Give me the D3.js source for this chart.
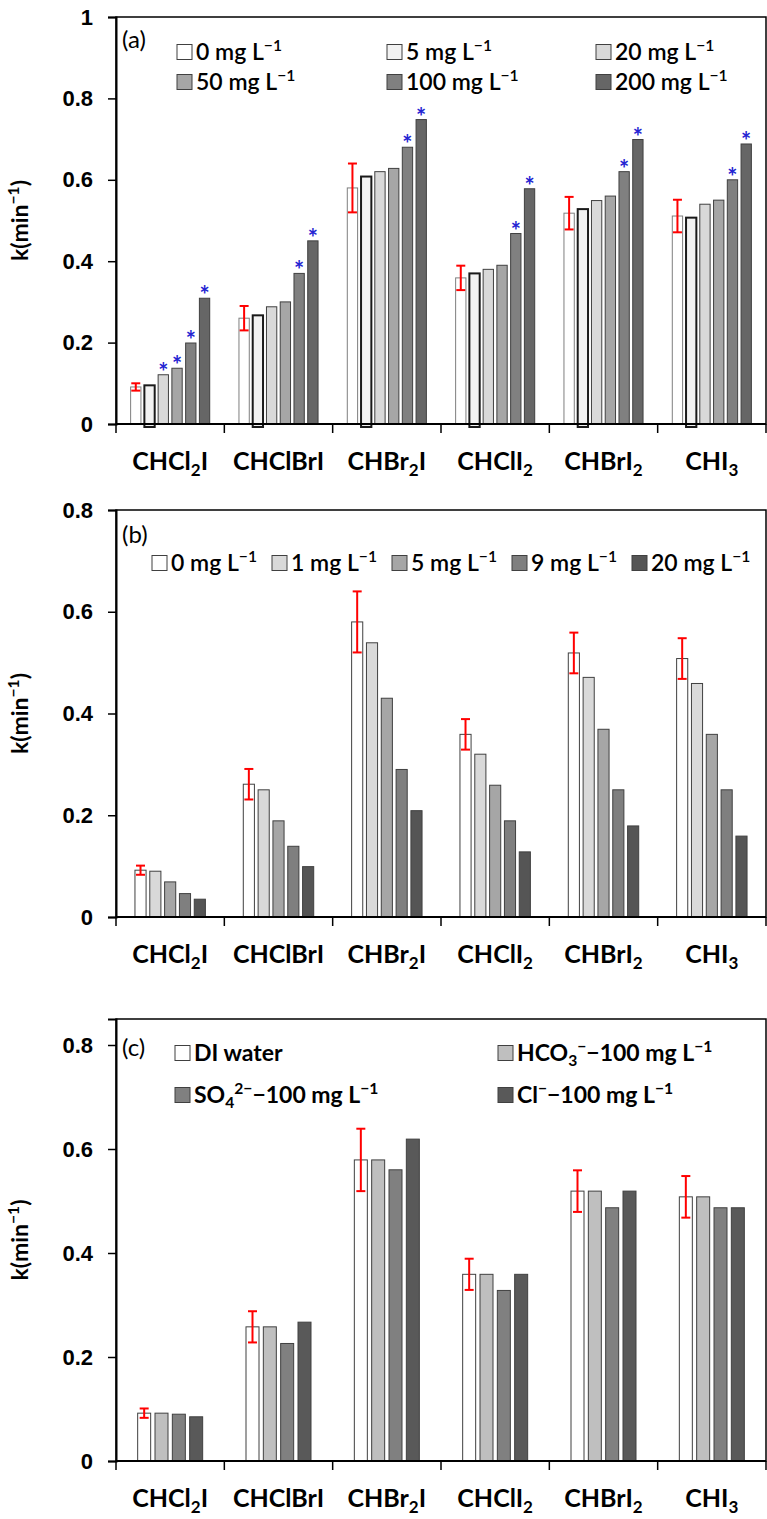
<!DOCTYPE html>
<html>
<head>
<meta charset="utf-8">
<script src="https://cdn.jsdelivr.net/npm/d3@7"></script>
<style>
  html, body { margin: 0; padding: 0; background: #fff; }
  svg { display: block; font-family: Lato, "Open Sans", sans-serif; }
</style>
</head>
<body>
<svg id="chart" width="767" height="1519"></svg>
<script>
// compounds on the x axis (_{} = subscript, ^{} = superscript)
const compounds = ["CHCl_{2}I", "CHClBrI", "CHBr_{2}I", "CHClI_{2}", "CHBrI_{2}", "CHI_{3}"];

// standard deviation of the 0 mg L-1 (control) bar
const controlErrors = [0.009, 0.03, 0.06, 0.03, 0.04, 0.04];

// (a) series
const seriesA = ["0 mg L^{−1}", "5 mg L^{−1}", "20 mg L^{−1}", "50 mg L^{−1}", "100 mg L^{−1}", "200 mg L^{−1}"];
const valuesA = [
    [0.091, 0.095, 0.121, 0.137, 0.199, 0.309],
    [0.26, 0.267, 0.288, 0.30, 0.37, 0.45],
    [0.58, 0.608, 0.62, 0.628, 0.68, 0.748],
    [0.359, 0.37, 0.38, 0.39, 0.468, 0.578],
    [0.518, 0.528, 0.549, 0.56, 0.62, 0.699],
    [0.511, 0.507, 0.54, 0.55, 0.60, 0.688]
];
// significance markers (1 = asterisk)
const starsA = [
    [0, 0, 1, 1, 1, 1],
    [0, 0, 0, 0, 1, 1],
    [0, 0, 0, 0, 1, 1],
    [0, 0, 0, 0, 1, 1],
    [0, 0, 0, 0, 1, 1],
    [0, 0, 0, 0, 1, 1]
];

// (b) series
const seriesB = ["0 mg L^{−1}", "1 mg L^{−1}", "5 mg L^{−1}", "9 mg L^{−1}", "20 mg L^{−1}"];
const valuesB = [
    [0.092, 0.09, 0.069, 0.046, 0.035],
    [0.261, 0.25, 0.189, 0.139, 0.099],
    [0.58, 0.539, 0.43, 0.29, 0.209],
    [0.359, 0.32, 0.259, 0.189, 0.128],
    [0.519, 0.471, 0.369, 0.25, 0.179],
    [0.508, 0.459, 0.359, 0.25, 0.159]
];

// (c) series
const seriesC = ["DI water", "HCO_{3}^{−}−100 mg L^{−1}", "SO_{4}^{2−}−100 mg L^{−1}", "Cl^{−}−100 mg L^{−1}"];
const valuesC = [
    [0.092, 0.092, 0.09, 0.085],
    [0.258, 0.258, 0.226, 0.267],
    [0.579, 0.579, 0.56, 0.619],
    [0.359, 0.359, 0.328, 0.359],
    [0.519, 0.519, 0.487, 0.519],
    [0.508, 0.508, 0.487, 0.487]
];

const ticksA = [0, 0.2, 0.4, 0.6, 0.8, 1];
const ticksBC = [0, 0.2, 0.4, 0.6, 0.8];

const panels = [
    {
        tag: "(a)", tagY: 31, top: 17, bottom: 424, max: 1, ticks: ticksA,
        series: seriesA, values: valuesA, stars: starsA, groupFrac: 0.73,
        fills: ["#ffffff", "#f2f2f2", "#d9d9d9", "#a6a6a6", "#808080", "#666666"],
        strokes: ["#7f7f7f", "#1a1a1a", "#404040", "#404040", "#404040", "#404040"],
        strokeWidths: [1, 2, 1, 1, 1, 1],
        legend: { cols: [177, 387, 596], rows: [52, 82], perRow: 3, weight: 600 }
    },
    {
        tag: "(b)", tagY: 33, top: 510, bottom: 917, max: 0.8, ticks: ticksBC,
        series: seriesB, values: valuesB, stars: null, groupFrac: 0.65,
        fills: ["#ffffff", "#d9d9d9", "#a6a6a6", "#7f7f7f", "#555555"],
        strokes: ["#404040", "#404040", "#404040", "#404040", "#404040"],
        strokeWidths: [1, 1, 1, 1, 1],
        legend: { cols: [152, 272, 392, 512, 632], rows: [563], perRow: 5, weight: 600 }
    },
    {
        tag: "(c)", tagY: 37, top: 1019, bottom: 1461, max: 0.85, ticks: ticksBC,
        series: seriesC, values: valuesC, stars: null, groupFrac: 0.6,
        fills: ["#ffffff", "#bfbfbf", "#808080", "#595959"],
        strokes: ["#404040", "#404040", "#404040", "#404040"],
        strokeWidths: [1, 1, 1, 1],
        legend: { cols: [175, 498], rows: [1053, 1095], perRow: 2, weight: "bold" }
    }
];

const left = 116, right = 766;
const svg = d3.select("#chart");

// write "A_{2}B^{-1}" style strings as tspans
const richText = (textSel, str, size) => {
    const parts = str.split(/(_\{[^}]*\}|\^\{[^}]*\})/).filter(p => p !== "");
    let shift = 0;
    parts.forEach(p => {
        let t = p, target = 0, fs = size;
        if (p.startsWith("_{")) { t = p.slice(2, -1); target = size * 0.22; fs = size * 0.68; }
        else if (p.startsWith("^{")) { t = p.slice(2, -1); target = -size * 0.38; fs = size * 0.68; }
        textSel.append("tspan")
            .attr("dy", target - shift)
            .style("font-size", `${fs}px`)
            .text(t);
        shift = target;
    });
};

const drawPanel = (p) => {
    const g = svg.append("g");

    const x = d3.scaleBand().domain(compounds).range([left, right]);
    const y = d3.scaleLinear().domain([0, p.max]).range([p.bottom, p.top]);
    const groupW = x.bandwidth() * p.groupFrac;
    const xs = d3.scaleBand()
        .domain(d3.range(p.series.length))
        .range([-groupW / 2, groupW / 2])
        .paddingInner(0.25);

    const rows = [];
    compounds.forEach((c, ci) => {
        p.values[ci].forEach((v, si) => rows.push({ c, ci, si, v }));
    });

    // bars
    g.selectAll(".bar")
        .data(rows)
        .join("rect")
        .attr("class", "bar")
        .attr("x", d => x(d.c) + x.bandwidth() / 2 + xs(d.si))
        .attr("width", xs.bandwidth())
        .attr("y", d => y(d.v))
        .attr("height", d => y(0) - y(d.v) + (p.strokeWidths[d.si] > 1 ? 3 : 0))
        .attr("fill", d => p.fills[d.si])
        .attr("stroke", d => p.strokes[d.si])
        .attr("stroke-width", d => p.strokeWidths[d.si]);

    // frame
    g.append("rect")
        .attr("x", left).attr("y", p.top)
        .attr("width", right - left).attr("height", p.bottom - p.top)
        .attr("fill", "none").attr("stroke", "#000").attr("stroke-width", 1.5);

    // y axis
    const yAxis = g.append("g")
        .attr("transform", `translate(${left},0)`)
        .call(d3.axisLeft(y).tickValues(p.ticks).tickSize(8).tickPadding(15).tickFormat(d3.format("~g")));
    yAxis.select(".domain").attr("stroke-width", 2);
    yAxis.selectAll(".tick line").attr("stroke-width", 1.5);
    yAxis.selectAll(".tick text")
        .style("font-size", "22px").style("font-weight", "bold").attr("fill", "#000");

    // x axis line + category boundary ticks
    g.append("line")
        .attr("x1", left).attr("x2", right)
        .attr("y1", y(0)).attr("y2", y(0))
        .attr("stroke", "#000").attr("stroke-width", 2);
    const bounds = compounds.map(c => x(c)).concat([x.range()[1]]);
    g.selectAll(".xtick")
        .data(bounds)
        .join("line")
        .attr("class", "xtick")
        .attr("x1", d => d).attr("x2", d => d)
        .attr("y1", y(0)).attr("y2", y(0) + 9)
        .attr("stroke", "#000").attr("stroke-width", 1.5);

    g.selectAll(".xlabel")
        .data(compounds)
        .join("text")
        .attr("class", "xlabel")
        .attr("x", d => x(d) + x.bandwidth() / 2)
        .attr("y", y(0) + 46)
        .attr("text-anchor", "middle")
        .style("font-weight", "bold")
        .style("font-size", "25px")
        .each(function (d) { richText(d3.select(this), d, 25); });

    // y title
    g.append("text")
        .attr("transform", `translate(28,${(p.top + p.bottom) / 2}) rotate(-90)`)
        .attr("text-anchor", "middle")
        .style("font-weight", "bold")
        .style("font-size", "23px")
        .each(function () { richText(d3.select(this), "k(min^{−1})", 23); });

    // error bars on control
    const eb = rows.filter(d => d.si === 0);
    const ebG = g.selectAll(".err")
        .data(eb)
        .join("g")
        .attr("class", "err")
        .attr("transform", d => `translate(${x(d.c) + x.bandwidth() / 2 + xs(0) + xs.bandwidth() / 2},0)`)
        .attr("stroke", "#ff0000")
        .attr("stroke-width", 2);
    ebG.append("line")
        .attr("y1", d => y(d.v - controlErrors[d.ci]))
        .attr("y2", d => y(d.v + controlErrors[d.ci]));
    ebG.append("line")
        .attr("x1", -4.5).attr("x2", 4.5)
        .attr("y1", d => y(d.v + controlErrors[d.ci]))
        .attr("y2", d => y(d.v + controlErrors[d.ci]));
    ebG.append("line")
        .attr("x1", -4.5).attr("x2", 4.5)
        .attr("y1", d => y(d.v - controlErrors[d.ci]))
        .attr("y2", d => y(d.v - controlErrors[d.ci]));

    // asterisks
    if (p.stars) {
        g.selectAll(".star")
            .data(rows.filter(d => p.stars[d.ci][d.si]))
            .join("text")
            .attr("class", "star")
            .attr("x", d => x(d.c) + x.bandwidth() / 2 + xs(d.si) + xs.bandwidth() / 2)
            .attr("y", d => y(d.v) + 6)
            .attr("text-anchor", "middle")
            .style("font-size", "24px")
            .style("font-weight", "bold")
            .attr("fill", "#2424d2")
            .text("*");
    }

    // panel tag
    g.append("text")
        .attr("x", left + 6)
        .attr("y", p.top + p.tagY)
        .style("font-size", "24px")
        .text(p.tag);

    // legend
    const lg = g.selectAll(".leg")
        .data(p.series)
        .join("g")
        .attr("class", "leg")
        .attr("transform", (d, i) =>
            `translate(${p.legend.cols[i % p.legend.perRow]},${p.legend.rows[Math.floor(i / p.legend.perRow)]})`);
    lg.append("rect")
        .attr("x", 0).attr("y", -7.5)
        .attr("width", 15).attr("height", 15)
        .attr("fill", (d, i) => p.fills[i])
        .attr("stroke", "#404040")
        .attr("stroke-width", 1);
    lg.append("text")
        .attr("x", 19)
        .attr("y", 8)
        .style("font-size", "23px")
        .style("font-weight", p.legend.weight)
        .each(function (d) { richText(d3.select(this), d, 23); });
};

panels.forEach(drawPanel);
</script>
</body>
</html>
